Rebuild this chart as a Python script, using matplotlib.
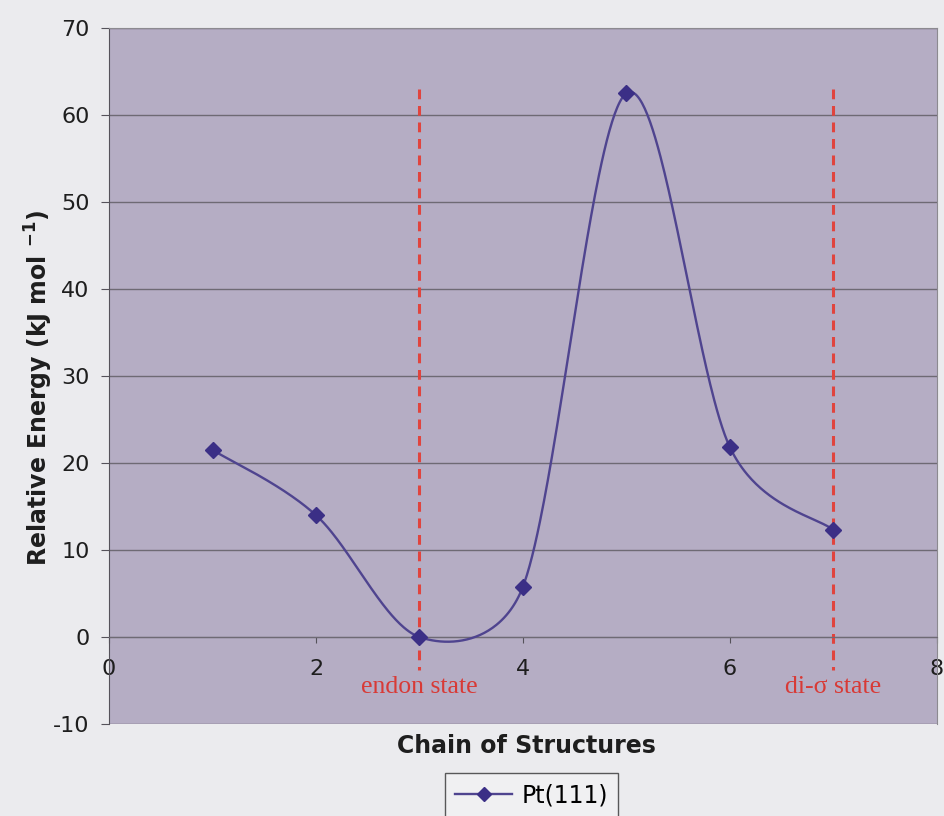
import numpy as np
import matplotlib
matplotlib.use("Agg")
import matplotlib.pyplot as plt
from matplotlib.lines import Line2D

# Energy profile along the chain of structures on Pt(111)
structures = [1, 2, 3, 4, 5, 6, 7]
energies = [21.5, 14.0, 0.0, 5.8, 62.5, 21.8, 12.3]
series_name = "Pt(111)"
state_positions = [3, 7]
state_labels = ["endon state", "di-\u03c3 state"]
x_ticks = [0, 2, 4, 6, 8]
y_ticks = [-10, 0, 10, 20, 30, 40, 50, 60, 70]


def smooth_curve(ax, x, y, n=80):
    """Spreadsheet-style smoothed line: cubic Bezier segments whose handle
    lengths are limited by the on-screen segment lengths."""
    pts = np.column_stack([np.asarray(x, float), np.asarray(y, float)])
    scr = ax.transData.transform(pts)

    def dist(a, b):
        return np.hypot(*(scr[a] - scr[b]))

    last = len(pts) - 1
    out = []
    for i in range(last):
        i0, i1, i2, i3 = max(i - 1, 0), i, i + 1, min(i + 2, last)
        d12 = dist(i1, i2)
        d02 = dist(i0, i2)
        d13 = dist(i1, i3)
        f0 = 1 / 6 if d02 / 6 < d12 / 2 else d12 / d02 / 2
        f1 = 1 / 6 if d13 / 6 < d12 / 2 else d12 / d13 / 2
        p1, p2 = pts[i1], pts[i2]
        b1 = p1 + (pts[i2] - pts[i0]) * f0
        b2 = p2 - (pts[i3] - pts[i1]) * f1
        t = np.linspace(0, 1, n)[:, None]
        seg = ((1 - t) ** 3) * p1 + 3 * ((1 - t) ** 2) * t * b1 \
            + 3 * (1 - t) * t ** 2 * b2 + t ** 3 * p2
        out.append(seg if i == 0 else seg[1:])
    seg = np.vstack(out)
    return seg[:, 0], seg[:, 1]


plt.rcParams["font.family"] = ["DejaVu Sans"]
plt.rcParams["axes.unicode_minus"] = False

fig = plt.figure(figsize=(9.44, 8.16), dpi=100, facecolor="#ebebee")
ax = fig.add_axes([0.1155, 0.1127, 0.877, 0.853])
ax.set_facecolor("#b5adc4")

ax.set_xlim(0, 8)
ax.set_ylim(-10, 70)
ax.set_xticks(x_ticks)
ax.set_yticks(y_ticks)
ax.yaxis.grid(True, color="#6e6a74", linewidth=1.0)
ax.set_axisbelow(True)

line_color = "#4f448f"
sx, sy = smooth_curve(ax, structures, energies)
ax.plot(sx, sy, color=line_color, linewidth=1.7, zorder=3)
ax.plot(structures, energies, linestyle="none", marker="D", markersize=8,
        color="#3b2f86", zorder=4)

# Dashed markers for the two adsorption states
for xp, lab in zip(state_positions, state_labels):
    ax.plot([xp, xp], [63.0, -3.8], color="#e0443e", linestyle=(0, (3.2, 2.2)),
            linewidth=2.2, zorder=2)
    ax.text(xp, -5.8, lab, color="#d83a36", fontsize=18.5, ha="center", va="center",
            family=["Liberation Serif", "DejaVu Serif"])

# x axis crossing at zero
ax.spines["bottom"].set_position(("data", 0))
ax.spines["bottom"].set_color("#6e6a74")
ax.spines["left"].set_color("#55525a")
ax.spines["top"].set_color("#8c8a90")
ax.spines["right"].set_color("#8c8a90")
ax.tick_params(axis="x", direction="out", length=4, color="#55525a",
               labelsize=16, labelcolor="#1e1e1e", pad=12)
ax.tick_params(axis="y", direction="out", length=6, color="#55525a",
               labelsize=16, labelcolor="#1e1e1e", pad=8)
for lbl in ax.get_xticklabels():
    lbl.set_zorder(5)

fig.text(39 / 944, 1 - 388 / 816, "Relative Energy (kJ mol $^{\\mathregular{-1}}$)",
         fontsize=17, fontweight="bold", color="#1e1e1e", rotation=90,
         ha="center", va="center")
fig.text(526 / 944, 1 - 746 / 816, "Chain of Structures", fontsize=17, fontweight="bold",
         color="#1e1e1e", ha="center", va="center")

handle = Line2D([], [], color=line_color, linewidth=1.7, marker="D",
                markersize=7, markerfacecolor="#3b2f86", markeredgecolor="#3b2f86")
leg = fig.legend([handle], [series_name], loc="upper center",
                 bbox_to_anchor=(531.5 / 944, 1 - 773 / 816), borderaxespad=0.0,
                 frameon=True, fontsize=17, fancybox=False, edgecolor="#333333",
                 handlelength=2.4, handletextpad=0.4, borderpad=0.45)
leg.get_frame().set_facecolor("#f2f2f4")
leg.get_frame().set_linewidth(1.0)

fig.savefig("out.png", dpi=100, facecolor=fig.get_facecolor())
